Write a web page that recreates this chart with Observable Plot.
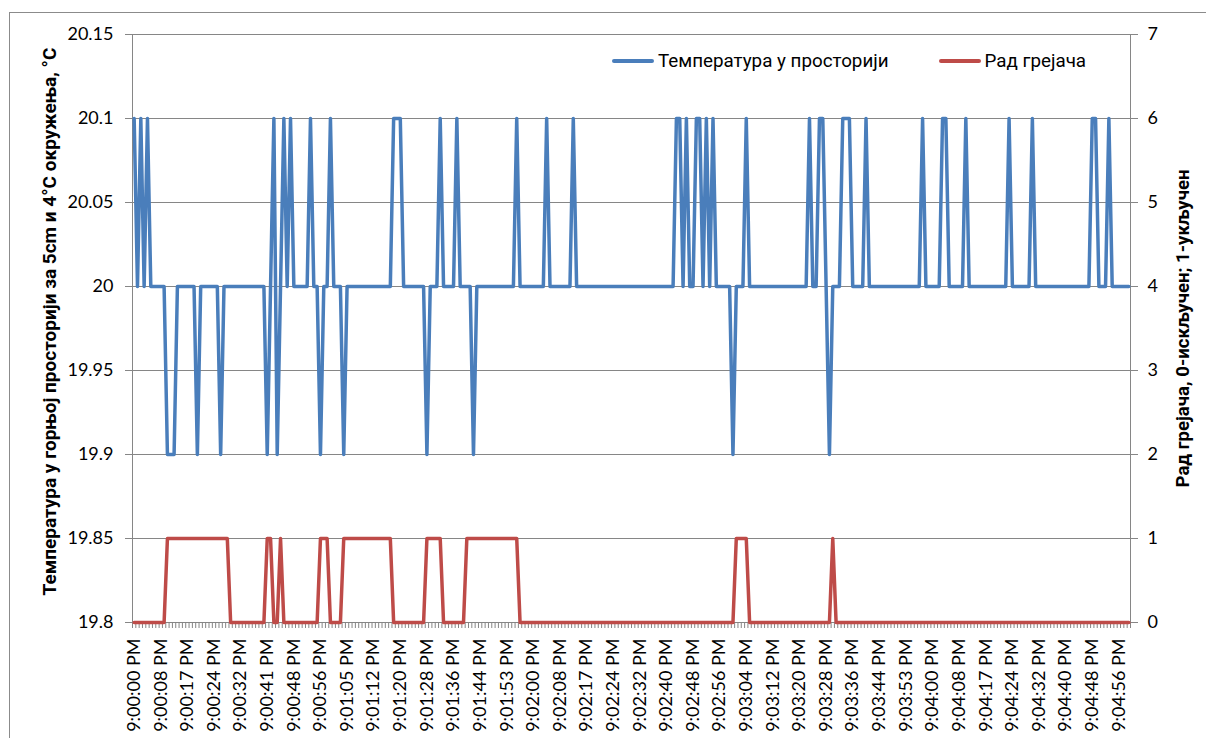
<!DOCTYPE html>
<html>
<head>
<meta charset="utf-8">
<script src="https://cdn.jsdelivr.net/npm/d3@7"></script>
<script src="https://cdn.jsdelivr.net/npm/@observablehq/plot@0.6"></script>
<style>
  html, body { margin: 0; padding: 0; background: #fff; }
  #wrap { position: relative; width: 1206px; height: 738px; overflow: hidden; background: #fff; }
  #frame { position: absolute; left: 9px; top: 12px; width: 1220px; height: 760px; border: 1px solid #8b8b8b; box-sizing: border-box; }
  #chart { position: absolute; left: 0; top: 0; }
  #legend { position: absolute; top: 50px; left: 612px; font-family: Roboto, "Noto Sans", sans-serif; font-size: 18.8px; color: #000; display: flex; align-items: center; white-space: nowrap; }
  .item { display: flex; align-items: center; }
  .sw { display: inline-block; width: 42px; height: 3.5px; margin-right: 4px; border-radius: 2px; }
</style>
</head>
<body>
<div id="wrap">
  <div id="frame"></div>
  <div id="chart"></div>
  <div id="legend"></div>
</div>
<script>
// ---- data (one sample per second, 9:00:00 PM – 9:04:59 PM) ----
const temperature = [
  20.1,20,20.1,20,20.1,20,20,20,20,20, 19.9,19.9,19.9,20,20,20,20,20,20,19.9,
  20,20,20,20,20,20,19.9,20,20,20, 20,20,20,20,20,20,20,20,20,20,
  19.9,20,20.1,19.9,20,20.1,20,20.1,20,20, 20,20,20,20.1,20,20,19.9,20,20,20.1,
  20,20,20,19.9,20,20,20,20,20,20, 20,20,20,20,20,20,20,20,20.1,20.1,
  20.1,20,20,20,20,20,20,20,19.9,20, 20,20,20.1,20,20,20,20,20.1,20,20,
  20,20,19.9,20,20,20,20,20,20,20, 20,20,20,20,20,20.1,20,20,20,20,
  20,20,20,20,20.1,20,20,20,20,20, 20,20,20.1,20,20,20,20,20,20,20,
  20,20,20,20,20,20,20,20,20,20, 20,20,20,20,20,20,20,20,20,20,
  20,20,20,20.1,20.1,20,20.1,20,20,20.1, 20.1,20,20.1,20,20.1,20,20,20,20,20,
  19.9,20,20,20,20.1,20,20,20,20,20, 20,20,20,20,20,20,20,20,20,20,
  20,20,20,20.1,20,20,20.1,20.1,20,19.9, 20,20,20,20.1,20.1,20.1,20,20,20,20,
  20.1,20,20,20,20,20,20,20,20,20, 20,20,20,20,20,20,20,20.1,20,20,
  20,20,20,20.1,20.1,20,20,20,20,20, 20.1,20,20,20,20,20,20,20,20,20,
  20,20,20,20.1,20,20,20,20,20,20, 20.1,20,20,20,20,20,20,20,20,20,
  20,20,20,20,20,20,20,20,20.1,20.1, 20,20,20,20.1,20,20,20,20,20,20
];
const heater = [
  0,0,0,0,0,0,0,0,0,0, 1,1,1,1,1,1,1,1,1,1,
  1,1,1,1,1,1,1,1,1,0, 0,0,0,0,0,0,0,0,0,0,
  1,1,0,0,1,0,0,0,0,0, 0,0,0,0,0,0,1,1,1,0,
  0,0,0,1,1,1,1,1,1,1, 1,1,1,1,1,1,1,1,0,0,
  0,0,0,0,0,0,0,0,1,1, 1,1,1,0,0,0,0,0,0,0,
  1,1,1,1,1,1,1,1,1,1, 1,1,1,1,1,1,0,0,0,0,
  0,0,0,0,0,0,0,0,0,0, 0,0,0,0,0,0,0,0,0,0,
  0,0,0,0,0,0,0,0,0,0, 0,0,0,0,0,0,0,0,0,0,
  0,0,0,0,0,0,0,0,0,0, 0,0,0,0,0,0,0,0,0,0,
  0,1,1,1,1,0,0,0,0,0, 0,0,0,0,0,0,0,0,0,0,
  0,0,0,0,0,0,0,0,0,0, 1,0,0,0,0,0,0,0,0,0,
  0,0,0,0,0,0,0,0,0,0, 0,0,0,0,0,0,0,0,0,0,
  0,0,0,0,0,0,0,0,0,0, 0,0,0,0,0,0,0,0,0,0,
  0,0,0,0,0,0,0,0,0,0, 0,0,0,0,0,0,0,0,0,0,
  0,0,0,0,0,0,0,0,0,0, 0,0,0,0,0,0,0,0,0,0
];
const tickLabels = [
  "9:00:00 PM","9:00:08 PM","9:00:17 PM","9:00:24 PM","9:00:32 PM","9:00:41 PM","9:00:48 PM","9:00:56 PM",
  "9:01:05 PM","9:01:12 PM","9:01:20 PM","9:01:28 PM","9:01:36 PM","9:01:44 PM","9:01:53 PM",
  "9:02:00 PM","9:02:08 PM","9:02:17 PM","9:02:24 PM","9:02:32 PM","9:02:40 PM","9:02:48 PM","9:02:56 PM",
  "9:03:04 PM","9:03:12 PM","9:03:20 PM","9:03:28 PM","9:03:36 PM","9:03:44 PM","9:03:53 PM",
  "9:04:00 PM","9:04:08 PM","9:04:17 PM","9:04:24 PM","9:04:32 PM","9:04:40 PM","9:04:48 PM","9:04:56 PM"
];
const labelEvery = 8;
const leftTicks = [19.8, 19.85, 19.9, 19.95, 20, 20.05, 20.1, 20.15];
const leftTickText = ["19.8","19.85","19.9","19.95","20","20.05","20.1","20.15"];
const rightTicks = [0, 1, 2, 3, 4, 5, 6, 7];
const seriesNames = ["Температура у просторији", "Рад грејача"];
const colors = ["#4A7EBB", "#BE4B48"];
const leftTitle = "Температура у горњој просторији за 5cm и 4°C окружења, °C";
const rightTitle = "Рад грејача, 0-искључен; 1-укључен";

// ---- build ----
const N = temperature.length;
const rows = temperature.map((t, i) => ({i, t, h: heater[i]}));
const yBase = leftTicks[0], yStep = leftTicks[1] - leftTicks[0];
const heatToY = v => yBase + v * yStep;            // secondary axis mapped onto primary
const labelIdx = tickLabels.map((_, k) => k * labelEvery);
const bounds = d3.range(N + 1).map(k => k - 0.5);
const grid = "#868686";
const titleFont = "Roboto, 'Noto Sans', sans-serif";

const chart = Plot.plot({
  width: 1206,
  height: 738,
  marginLeft: 132,
  marginRight: 76,
  marginTop: 34,
  marginBottom: 116,
  style: {fontFamily: "Lato, 'Open Sans', sans-serif", fontSize: "18px", color: "#000", background: "transparent", overflow: "visible"},
  x: {type: "linear", domain: [-0.5, N - 0.5], label: null},
  y: {domain: [leftTicks[0], leftTicks[leftTicks.length - 1]], label: null},
  marks: [
    Plot.gridY(leftTicks, {stroke: grid, strokeOpacity: 1, strokeWidth: 1}),
    Plot.frame({stroke: grid}),
    Plot.axisY(leftTicks, {anchor: "left", tickSize: 7, tickPadding: 12, stroke: grid, fill: "#000",
      tickFormat: d => leftTickText[leftTicks.indexOf(d)], label: null}),
    Plot.axisY(rightTicks.map(heatToY), {anchor: "right", tickSize: 7, tickPadding: 10, stroke: grid, fill: "#000",
      tickFormat: (d, k) => String(rightTicks[k]), label: null}),
    Plot.axisX(bounds, {anchor: "bottom", tickSize: 6, stroke: grid, fill: "none", label: null}),
    Plot.axisX(labelIdx, {anchor: "bottom", tickSize: 0, tickPadding: 16, tickRotate: -90, fill: "#000",
      tickFormat: i => tickLabels[i / labelEvery], label: null}),
    Plot.line(rows, {x: "i", y: d => heatToY(d.h), stroke: colors[1], strokeWidth: 3.5, strokeLinejoin: "round"}),
    Plot.line(rows, {x: "i", y: "t", stroke: colors[0], strokeWidth: 3.5, strokeLinejoin: "round"}),
    Plot.text([leftTitle], {text: d => d, frameAnchor: "left", textAnchor: "middle", dx: -83, dy: -7, rotate: -90,
      fontFamily: titleFont, fontWeight: "bold", fontSize: 19, fill: "#000"}),
    Plot.text([rightTitle], {text: d => d, frameAnchor: "right", textAnchor: "middle", dx: 53, rotate: -90,
      fontFamily: titleFont, fontWeight: "bold", fontSize: 18.6, fill: "#000"})
  ]
});
document.getElementById("chart").appendChild(chart);

// legend
const legend = document.getElementById("legend");
seriesNames.forEach((name, k) => {
  const item = document.createElement("span");
  item.className = "item";
  item.style.marginRight = k === 0 ? "50px" : "0";
  const sw = document.createElement("span");
  sw.className = "sw";
  sw.style.background = colors[k];
  const tx = document.createElement("span");
  tx.textContent = name;
  item.appendChild(sw);
  item.appendChild(tx);
  legend.appendChild(item);
});
</script>
</body>
</html>
